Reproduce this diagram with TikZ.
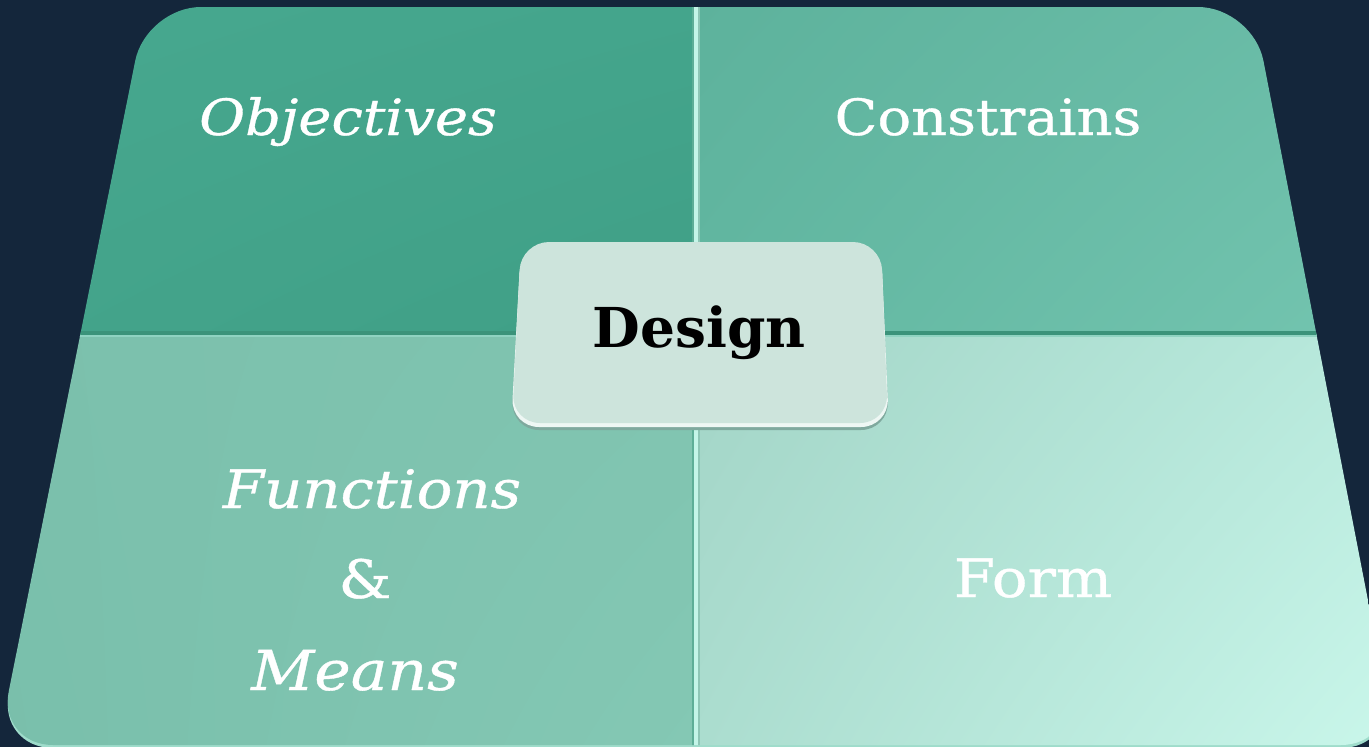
\documentclass[tikz,border=0pt]{standalone}
\usepackage{fontspec}
\setmainfont{DejaVu Serif}
\newfontfamily\lblfont[FakeStretch=1.12,FakeBold=0.7]{DejaVu Serif}
\usetikzlibrary{shadings}
\definecolor{bgnavy}{HTML}{14263B}
\definecolor{rim}{HTML}{9FDCCB}
\definecolor{divlight}{HTML}{C4F5E8}
\definecolor{divdark}{HTML}{3B937A}
\definecolor{divshade}{HTML}{5DAE97}
\definecolor{boxfill}{HTML}{CDE4DC}
\definecolor{boxrim}{HTML}{EEF7F4}
\definecolor{boxshadow}{HTML}{7FA99E}
\definecolor{aUL}{HTML}{47A88F}\definecolor{aUR}{HTML}{44A58C}\definecolor{aLL}{HTML}{44A48B}\definecolor{aLR}{HTML}{3F9F86}
\definecolor{bUL}{HTML}{5DB29C}\definecolor{bUR}{HTML}{6BBDA8}\definecolor{bLL}{HTML}{62B7A1}\definecolor{bLR}{HTML}{74C5B0}
\definecolor{cUL}{HTML}{7BC0AC}\definecolor{cUR}{HTML}{80C4B0}\definecolor{cLL}{HTML}{79BFAB}\definecolor{cLR}{HTML}{84C8B4}
\definecolor{dUL}{HTML}{A3D5C7}\definecolor{dUR}{HTML}{B9EADD}\definecolor{dLL}{HTML}{ABDDCF}\definecolor{dLR}{HTML}{CAF7EB}
\tikzset{
  lbl/.style={text=white, anchor=base, inner sep=0pt, font=\lblfont\fontsize{50}{58}\selectfont},
  ilbl/.style={lbl, font=\lblfont\fontsize{50}{58}\selectfont\itshape},
  dlbl/.style={text=black, anchor=base, font=\fontsize{55}{62}\selectfont\bfseries, inner sep=0pt},
}
\begin{document}
\begin{tikzpicture}[x=1pt,y=-1pt]
\fill[bgnavy] (0,0) rectangle (1369,747);
\useasboundingbox (0,0) rectangle (1369,747);
% bottom bevel of the board
\fill[rim, rounded corners=55pt] (146,10) -- (1253,10) -- (1396,748) -- (-2,748) -- cycle;
\begin{scope}
  \clip[rounded corners=55pt] (146,7) -- (1253,7) -- (1396,745) -- (-2,745) -- cycle;
  \shade[upper left=aUL, upper right=aUR, lower left=aLL, lower right=aLR] (-10,0) rectangle (697,334);
  \shade[upper left=bUL, upper right=bUR, lower left=bLL, lower right=bLR] (697,0) rectangle (1400,334);
  \shade[upper left=cUL, upper right=cUR, lower left=cLL, lower right=cLR] (-10,334) rectangle (697,750);
  \shade[upper left=dUL, upper right=dUR, lower left=dLL, lower right=dLR] (697,334) rectangle (1400,750);
  % dividers
  \fill[divdark] (-10,331) rectangle (1400,335);
  \fill[divlight!60!aLR] (-10,335) rectangle (1400,337);
  \fill[divshade] (692,0) rectangle (694,750);
  \fill[divlight] (694,0) rectangle (698,750);
  \fill[divshade!70!white] (698,0) rectangle (700,750);
\end{scope}
% Design box
\fill[boxshadow, rounded corners=28pt] (521,249) -- (881,249) -- (889,430) -- (511,430) -- cycle;
\fill[boxrim, rounded corners=28pt] (521,245) -- (881,245) -- (889,427) -- (511,427) -- cycle;
\fill[boxfill, rounded corners=28pt] (521,242) -- (881,242) -- (888,423) -- (512,423) -- cycle;
\node[dlbl] (design) at (699,347) {Design};
\node[ilbl] (obj) at (348,135) {Objectives};
\node[lbl] (con) at (988,135) {Constrains};
\node[ilbl, font=\lblfont\fontsize{53}{60}\selectfont\itshape] (fun) at (372,508) {Functions};
\node[lbl, font=\lblfont\fontsize{53}{60}\selectfont] (amp) at (365,598) {\&};
\node[ilbl, font=\lblfont\fontsize{55}{62}\selectfont\itshape] (mea) at (355,690) {Means};
\node[lbl, font=\lblfont\fontsize{53}{60}\selectfont] (form) at (1033,597) {Form};
\end{tikzpicture}
\end{document}
